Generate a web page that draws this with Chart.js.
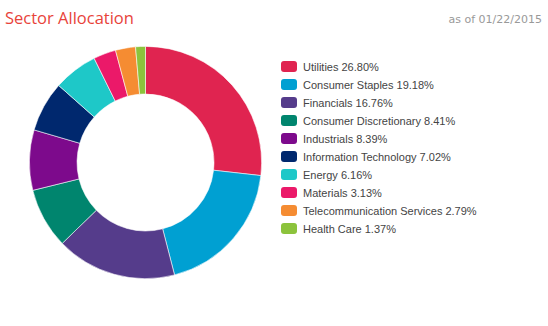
<!DOCTYPE html>
<html>
<head>
<meta charset="utf-8">
<script src="https://cdn.jsdelivr.net/npm/chart.js@4"></script>
<style>
  body { margin: 0; width: 548px; height: 326px; background: #fff; position: relative; overflow: hidden; }
  #title { position: absolute; left: 5px; top: 6px; font: 16.5px "Open Sans", sans-serif; color: #e8433a; }
  #asof { position: absolute; right: 6px; top: 13px; font: 11px "DejaVu Sans", sans-serif; color: #999; }
  #donut { position: absolute; left: 29px; top: 46px; width: 233px; height: 233px; }
  #legend { position: absolute; left: 281px; top: 58px; font: 11px "Liberation Sans", Arial, sans-serif; color: #444; }
  .row { height: 18px; line-height: 18px; white-space: nowrap; }
  .box { display: inline-block; width: 16px; height: 11px; border-radius: 3px; vertical-align: -1px; margin-right: 6px; }
</style>
</head>
<body>
<div id="title">Sector Allocation</div>
<div id="asof">as of 01/22/2015</div>
<div id="donut"><canvas id="chartSector"></canvas></div>
<div id="legend"></div>
<script>
var sectors = ['Utilities', 'Consumer Staples', 'Financials', 'Consumer Discretionary', 'Industrials',
               'Information Technology', 'Energy', 'Materials', 'Telecommunication Services', 'Health Care'];
var weights = [26.80, 19.18, 16.76, 8.41, 8.39, 7.02, 6.16, 3.13, 2.79, 1.37];
var colors = ['#e02450', '#00a0d2', '#553c8b', '#00856e', '#7d0a8c',
              '#00286e', '#1ec8c8', '#eb1969', '#f58c32', '#8cc33c'];

var ctx = document.getElementById('chartSector').getContext('2d');
var myChart = new Chart(ctx, {
    type: 'doughnut',
    data: {
        labels: sectors,
        datasets: [{
            data: weights,
            backgroundColor: colors,
            borderColor: 'rgba(255,255,255,0.7)',
            borderWidth: 0.8
        }]
    },
    options: {
        cutout: '59%',
        animation: false,
        responsive: true,
        maintainAspectRatio: false,
        plugins: {
            legend: { display: false },
            tooltip: { enabled: false }
        }
    }
});

// legend built from the same arrays
var legend = document.getElementById('legend');
sectors.forEach(function (name, i) {
    var row = document.createElement('div');
    row.className = 'row';
    var box = document.createElement('span');
    box.className = 'box';
    box.style.background = colors[i];
    row.appendChild(box);
    row.appendChild(document.createTextNode(name + ' ' + weights[i].toFixed(2) + '%'));
    legend.appendChild(row);
});
</script>
</body>
</html>
